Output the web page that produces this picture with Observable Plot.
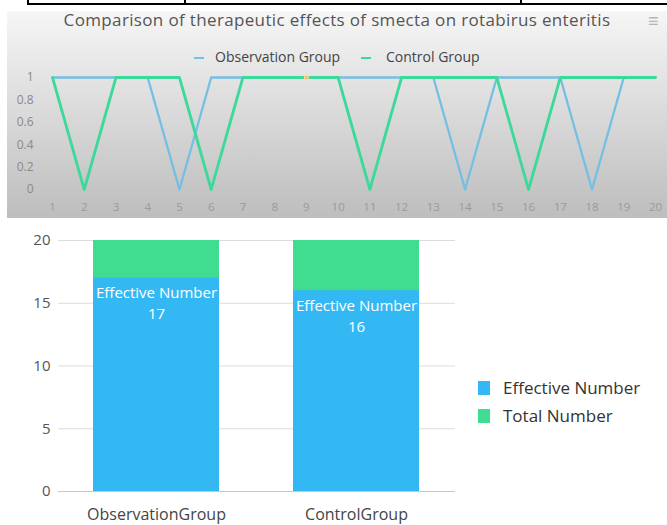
<!DOCTYPE html>
<html>
<head>
<meta charset="utf-8">
<script src="https://cdn.jsdelivr.net/npm/d3@7"></script>
<script src="https://cdn.jsdelivr.net/npm/@observablehq/plot@0.6"></script>
<style>
  html, body { margin: 0; padding: 0; background: #fff; }
  body { width: 667px; height: 525px; overflow: hidden; font-family: "Open Sans", sans-serif; }
  #wrap { position: relative; width: 667px; height: 525px; }
  .abs { position: absolute; }
  #panel { left: 7px; top: 11px; width: 660px; height: 207px; background: linear-gradient(#f6f6f6, #bdbdbd); }
  #title { left: 7px; width: 660px; top: 8px; text-align: center; font-size: 17px; letter-spacing: 0.35px; color: #555; white-space: nowrap; }
  #menu { left: 648px; top: 8px; font-size: 18px; color: #b5b5b5; }
  .leg { font-size: 14px; color: #444; white-space: nowrap; }
  .dash { height: 2px; width: 10px; }
  .sq { width: 12px; height: 14px; }
  .leg2 { font-size: 17px; color: #333; white-space: nowrap; }
  #topChart, #bottomChart { position: absolute; left: 0; }
  .bl { background: #000; }
</style>
</head>
<body>
<div id="wrap">
  <div class="abs bl" style="left:27px; top:3px; width:640px; height:2px;"></div>
  <div class="abs bl" style="left:27px; top:0px; width:2px; height:5px;"></div>
  <div class="abs bl" style="left:184px; top:0px; width:2px; height:5px;"></div>
  <div class="abs bl" style="left:520px; top:0px; width:2px; height:5px;"></div>
  <div id="panel" class="abs"></div>
  <div id="title" class="abs">Comparison of therapeutic effects of smecta on rotabirus enteritis</div>
  <div id="menu" class="abs">≡</div>
  <div class="abs dash" id="d1" style="left:194px; top:57px;"></div>
  <div class="abs leg" id="l1" style="left:215px; top:47px;"></div>
  <div class="abs dash" id="d2" style="left:361px; top:57px;"></div>
  <div class="abs leg" id="l2" style="left:386px; top:47px;"></div>
  <div id="topChart" style="top:60px;"></div>
  <div id="bottomChart" style="top:218px;"></div>
  <div class="abs sq" id="s1" style="left:478px; top:381px;"></div>
  <div class="abs leg2" id="t1" style="left:503px; top:376px;"></div>
  <div class="abs sq" id="s2" style="left:478px; top:409px;"></div>
  <div class="abs leg2" id="t2" style="left:503px; top:404px;"></div>
</div>
<script>
// ---- data ----
const days = [1, 2, 3, 4, 5, 6, 7, 8, 9, 10, 11, 12, 13, 14, 15, 16, 17, 18, 19, 20];
const observationGroup = [1, 1, 1, 1, 0, 1, 1, 1, 1, 1, 1, 1, 1, 0, 1, 1, 1, 0, 1, 1];
const controlGroup     = [1, 0, 1, 1, 1, 0, 1, 1, 1, 1, 0, 1, 1, 1, 1, 0, 1, 1, 1, 1];
const lineSeries = ["Observation Group", "Control Group"];
const yTicksTop = [0, 0.2, 0.4, 0.6, 0.8, 1];

const groups = ["ObservationGroup", "ControlGroup"];
const effectiveNumber = [17, 16];
const totalNumber = [20, 20];
const barSeries = ["Effective Number", "Total Number"];
const yTicksBottom = [0, 5, 10, 15, 20];

// ---- colors ----
const blueLine = "#74bfe2", greenLine = "#3dd99a";
const blueBar = "#34b8f3", greenBar = "#40dc8f";

// legends
document.getElementById("d1").style.background = blueLine;
document.getElementById("d2").style.background = greenLine;
document.getElementById("l1").textContent = lineSeries[0];
document.getElementById("l2").textContent = lineSeries[1];
document.getElementById("s1").style.background = blueBar;
document.getElementById("s2").style.background = greenBar;
document.getElementById("t1").textContent = barSeries[0];
document.getElementById("t2").textContent = barSeries[1];

// ---- top line chart ----
const obsData = days.map((d, i) => ({day: d, value: observationGroup[i]}));
const ctlData = days.map((d, i) => ({day: d, value: controlGroup[i]}));

const lineChart = Plot.plot({
  width: 667, height: 158,
  marginLeft: 52, marginRight: 12, marginTop: 17, marginBottom: 29,
  style: {background: "transparent", fontFamily: "Open Sans, sans-serif"},
  x: {domain: [1, 20], label: null},
  y: {domain: [0, 1], label: null},
  marks: [
    Plot.axisX(days, {tickSize: 0, tickPadding: 13, fontSize: 11.5, color: "#9a9a9a", label: null}),
    Plot.axisY(yTicksTop, {tickSize: 0, tickPadding: 19, fontSize: 12, color: "#8a8a8a", label: null, tickFormat: d => String(d)}),
    Plot.line(obsData, {x: "day", y: "value", stroke: blueLine, strokeWidth: 2.3}),
    Plot.line(ctlData, {x: "day", y: "value", stroke: greenLine, strokeWidth: 2.8}),
    Plot.dot([{day: days[8], value: observationGroup[8]}], {x: "day", y: "value", r: 2.2, fill: "#f4c06e", stroke: "#f8dca8", strokeWidth: 1})
  ]
});
document.getElementById("topChart").appendChild(lineChart);

// ---- bottom bar chart ----
const barData = groups.map((g, i) => ({group: g, effective: effectiveNumber[i], total: totalNumber[i]}));

const barChart = Plot.plot({
  width: 667, height: 307,
  marginLeft: 58, marginRight: 212, marginTop: 22, marginBottom: 34,
  style: {background: "transparent", fontFamily: "Open Sans, sans-serif"},
  x: {domain: groups, padding: 0.368, paddingOuter: 0.172, label: null},
  y: {domain: [0, 20], label: null},
  marks: [
    Plot.gridY(yTicksBottom, {stroke: "#dcdcdc", strokeOpacity: 1}),
    Plot.ruleY([0], {stroke: "#c8c8c8"}),
    Plot.axisX({tickSize: 0, tickPadding: 17, fontSize: 16, color: "#444", label: null}),
    Plot.axisY(yTicksBottom, {tickSize: 0, tickPadding: 8, fontSize: 15, color: "#555", label: null}),
    Plot.barY(barData, {x: "group", y: "total", fill: greenBar}),
    Plot.barY(barData, {x: "group", y: "effective", fill: blueBar}),
    Plot.text(barData, {x: "group", y: "effective", text: d => barSeries[0], dy: 15, fill: "#fff", fontSize: 15}),
    Plot.text(barData, {x: "group", y: "effective", text: d => String(d.effective), dy: 36, fill: "#fff", fontSize: 15})
  ]
});
document.getElementById("bottomChart").appendChild(barChart);
</script>
</body>
</html>
